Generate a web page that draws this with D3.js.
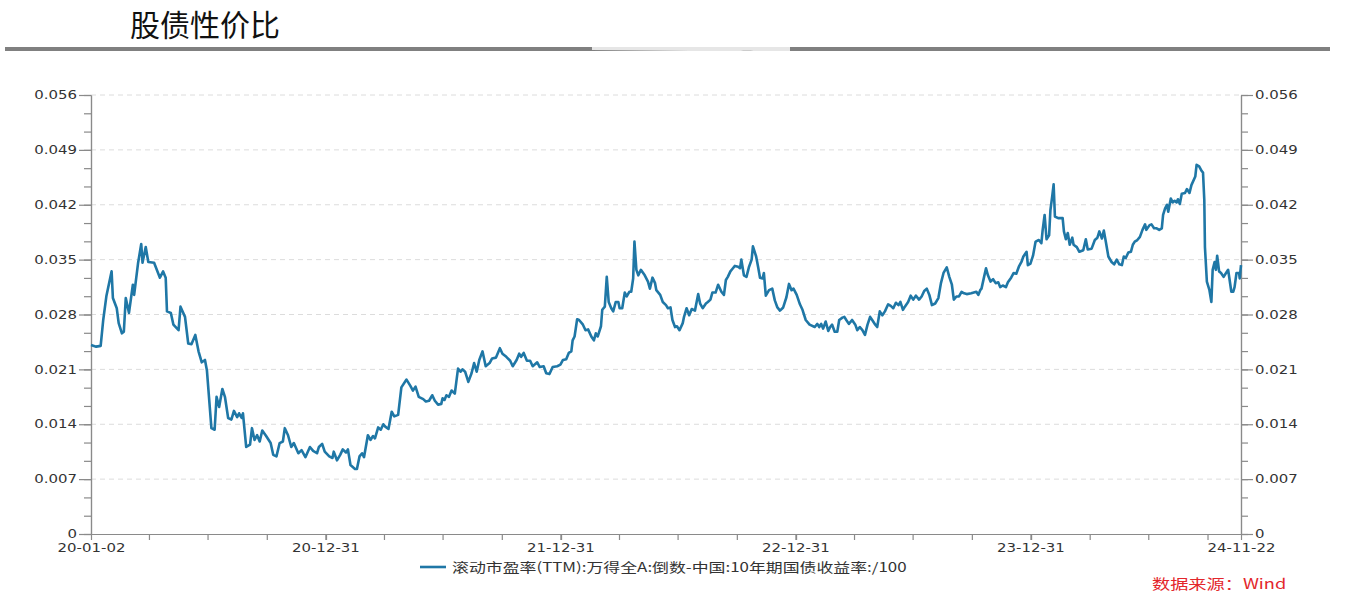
<!DOCTYPE html>
<html>
<head>
<meta charset="utf-8">
<script src="https://cdn.jsdelivr.net/npm/d3@7"></script>
<style>
	body { margin: 0; background: #fff; }
	svg { display: block; }
</style>
</head>
<body>
<svg id="chart" width="1345" height="603"></svg>
<script>
var title = "股债性价比";
var seriesName = "滚动市盈率(TTM):万得全A:倒数-中国:10年期国债收益率:/100";
var sourceText = "数据来源：Wind";

var xLabelDates = ["2020-01-02", "2020-12-31", "2021-12-31", "2022-12-31", "2023-12-31", "2024-11-22"];
var yLabelValues = [0, 0.007, 0.014, 0.021, 0.028, 0.035, 0.042, 0.049, 0.056];

var s2020 = [
	["2020-01-02",0.0241],["2020-01-10",0.0239],["2020-01-17",0.0240],["2020-01-21",0.0273],["2020-01-26",0.0304],
	["2020-02-03",0.0335],["2020-02-05",0.0301],["2020-02-11",0.0288],["2020-02-14",0.0269],["2020-02-19",0.0256],
	["2020-02-22",0.0258],["2020-02-25",0.0301],["2020-03-01",0.0282],["2020-03-07",0.0318],["2020-03-09",0.0305],
	["2020-03-15",0.0345],["2020-03-20",0.0370],["2020-03-22",0.0346],["2020-03-27",0.0366],["2020-03-31",0.0347],
	["2020-04-09",0.0346],["2020-04-18",0.0327],["2020-04-23",0.0335],["2020-04-27",0.0327],["2020-04-29",0.0284],
	["2020-05-05",0.0282],["2020-05-09",0.0267],["2020-05-17",0.0260],["2020-05-20",0.0290],["2020-05-27",0.0277],
	["2020-06-01",0.0243],["2020-06-06",0.0242],["2020-06-12",0.0254],["2020-06-17",0.0233],["2020-06-22",0.0219],
	["2020-06-27",0.0222],["2020-06-30",0.0209],["2020-07-07",0.0135],["2020-07-12",0.0133],["2020-07-15",0.0175],
	["2020-07-19",0.0162],["2020-07-24",0.0185],["2020-07-28",0.0175],["2020-08-02",0.0148],["2020-08-07",0.0146],
	["2020-08-11",0.0157],["2020-08-16",0.0149],["2020-08-19",0.0154],["2020-08-23",0.0148],["2020-08-25",0.0154],
	["2020-08-30",0.0111],["2020-09-05",0.0114],["2020-09-08",0.0135],["2020-09-12",0.0120],["2020-09-16",0.0126],
	["2020-09-20",0.0118],["2020-09-24",0.0132],["2020-09-30",0.0125],["2020-10-07",0.0116],["2020-10-11",0.0101],
	["2020-10-16",0.0099],["2020-10-21",0.0116],["2020-10-26",0.0118],["2020-10-29",0.0135],["2020-11-03",0.0126],
	["2020-11-08",0.0111],["2020-11-12",0.0116],["2020-11-19",0.0103],["2020-11-24",0.0107],["2020-11-30",0.0098],
	["2020-12-07",0.0111],["2020-12-12",0.0106],["2020-12-18",0.0103],["2020-12-21",0.0111],["2020-12-26",0.0115],
	["2020-12-30",0.0105]
];

var s2021 = [
	["2021-01-06",0.0099],["2021-01-11",0.0097],["2021-01-13",0.0105],["2021-01-18",0.0094],["2021-01-23",0.0101],
	["2021-01-27",0.0108],["2021-02-01",0.0104],["2021-02-04",0.0108],["2021-02-08",0.0088],["2021-02-15",0.0083],
	["2021-02-18",0.0083],["2021-02-22",0.0099],["2021-02-26",0.0103],["2021-03-01",0.0098],["2021-03-07",0.0126],
	["2021-03-11",0.0120],["2021-03-15",0.0125],["2021-03-18",0.0122],["2021-03-23",0.0136],["2021-03-27",0.0133],
	["2021-03-31",0.0140],["2021-04-03",0.0137],["2021-04-08",0.0134],["2021-04-13",0.0156],["2021-04-17",0.0150],
	["2021-04-23",0.0152],["2021-04-28",0.0187],["2021-05-06",0.0197],["2021-05-12",0.0189],["2021-05-16",0.0183],
	["2021-05-20",0.0188],["2021-05-25",0.0175],["2021-06-01",0.0172],["2021-06-05",0.0169],["2021-06-10",0.0170],
	["2021-06-15",0.0177],["2021-06-19",0.0170],["2021-06-24",0.0165],["2021-06-29",0.0166],["2021-07-01",0.0173],
	["2021-07-04",0.0171],["2021-07-07",0.0177],["2021-07-11",0.0175],["2021-07-15",0.0183],["2021-07-20",0.0179],
	["2021-07-25",0.0211],["2021-07-29",0.0207],["2021-08-01",0.0210],["2021-08-05",0.0207],["2021-08-10",0.0194],
	["2021-08-15",0.0205],["2021-08-19",0.0218],["2021-08-23",0.0207],["2021-08-27",0.0222],["2021-09-01",0.0233],
	["2021-09-06",0.0214],["2021-09-12",0.0218],["2021-09-16",0.0224],["2021-09-22",0.0225],["2021-09-28",0.0237],
	["2021-10-02",0.0230],["2021-10-08",0.0226],["2021-10-14",0.0221],["2021-10-18",0.0214],["2021-10-24",0.0222],
	["2021-10-28",0.0230],["2021-10-31",0.0226],["2021-11-04",0.0231],["2021-11-09",0.0221],["2021-11-14",0.0221],
	["2021-11-18",0.0214],["2021-11-25",0.0219],["2021-11-29",0.0213],["2021-12-05",0.0214],["2021-12-09",0.0205],
	["2021-12-14",0.0204],["2021-12-19",0.0213],["2021-12-26",0.0214],["2021-12-31",0.0216]
];

var s2022 = [
	["2022-01-04",0.0222],["2022-01-09",0.0223],["2022-01-13",0.0231],["2022-01-17",0.0233],["2022-01-19",0.0247],
	["2022-01-22",0.0252],["2022-01-26",0.0274],["2022-01-29",0.0273],["2022-02-04",0.0267],["2022-02-08",0.0260],
	["2022-02-12",0.0261],["2022-02-17",0.0252],["2022-02-21",0.0247],["2022-02-24",0.0256],["2022-02-27",0.0252],
	["2022-03-04",0.0265],["2022-03-06",0.0286],["2022-03-10",0.0290],["2022-03-13",0.0328],["2022-03-16",0.0296],
	["2022-03-20",0.0288],["2022-03-23",0.0284],["2022-03-27",0.0296],["2022-03-31",0.0296],["2022-04-02",0.0288],
	["2022-04-06",0.0288],["2022-04-10",0.0308],["2022-04-13",0.0303],["2022-04-17",0.0309],["2022-04-20",0.0309],
	["2022-04-23",0.0326],["2022-04-25",0.0373],["2022-04-28",0.0337],["2022-05-01",0.0330],["2022-05-05",0.0337],
	["2022-05-11",0.0330],["2022-05-16",0.0322],["2022-05-19",0.0313],["2022-05-23",0.0327],["2022-05-27",0.0320],
	["2022-05-29",0.0311],["2022-06-04",0.0305],["2022-06-08",0.0296],["2022-06-13",0.0292],["2022-06-16",0.0288],
	["2022-06-20",0.0289],["2022-06-23",0.0273],["2022-06-27",0.0264],["2022-06-30",0.0265],["2022-07-04",0.0260],
	["2022-07-09",0.0269],["2022-07-11",0.0277],["2022-07-15",0.0288],["2022-07-19",0.0279],["2022-07-23",0.0287],
	["2022-07-28",0.0285],["2022-08-02",0.0306],["2022-08-05",0.0294],["2022-08-09",0.0288],["2022-08-14",0.0294],
	["2022-08-17",0.0296],["2022-08-21",0.0299],["2022-08-24",0.0308],["2022-08-29",0.0308],["2022-09-02",0.0318],
	["2022-09-07",0.0309],["2022-09-11",0.0305],["2022-09-14",0.0324],["2022-09-17",0.0328],["2022-09-21",0.0335],
	["2022-09-24",0.0338],["2022-09-28",0.0342],["2022-10-03",0.0341],["2022-10-06",0.0339],["2022-10-08",0.0350],
	["2022-10-12",0.0330],["2022-10-16",0.0328],["2022-10-20",0.0341],["2022-10-24",0.0350],["2022-10-26",0.0367],
	["2022-10-31",0.0354],["2022-11-03",0.0341],["2022-11-06",0.0327],["2022-11-10",0.0326],["2022-11-12",0.0333],
	["2022-11-15",0.0304],["2022-11-20",0.0311],["2022-11-25",0.0313],["2022-11-29",0.0298],["2022-12-03",0.0289],
	["2022-12-07",0.0285],["2022-12-12",0.0289],["2022-12-17",0.0302],["2022-12-21",0.0319],["2022-12-25",0.0311],
	["2022-12-28",0.0313]
];

var s2023 = [
	["2023-01-02",0.0305],["2023-01-07",0.0293],["2023-01-11",0.0286],["2023-01-16",0.0273],["2023-01-22",0.0267],
	["2023-01-30",0.0264],["2023-02-03",0.0268],["2023-02-06",0.0264],["2023-02-09",0.0268],["2023-02-12",0.0262],
	["2023-02-16",0.0271],["2023-02-20",0.0259],["2023-02-23",0.0264],["2023-02-26",0.0267],["2023-03-02",0.0258],
	["2023-03-06",0.0258],["2023-03-09",0.0273],["2023-03-14",0.0276],["2023-03-17",0.0277],["2023-03-20",0.0273],
	["2023-03-24",0.0268],["2023-03-29",0.0273],["2023-04-03",0.0267],["2023-04-06",0.0260],["2023-04-10",0.0264],
	["2023-04-14",0.0260],["2023-04-18",0.0254],["2023-04-22",0.0267],["2023-04-26",0.0277],["2023-04-30",0.0272],
	["2023-05-04",0.0267],["2023-05-07",0.0264],["2023-05-11",0.0284],["2023-05-15",0.0279],["2023-05-19",0.0284],
	["2023-05-24",0.0293],["2023-05-28",0.0291],["2023-06-01",0.0288],["2023-06-05",0.0295],["2023-06-09",0.0292],
	["2023-06-12",0.0296],["2023-06-16",0.0286],["2023-06-19",0.0290],["2023-06-24",0.0296],["2023-06-28",0.0304],
	["2023-07-02",0.0299],["2023-07-06",0.0304],["2023-07-11",0.0299],["2023-07-15",0.0303],["2023-07-19",0.0310],
	["2023-07-23",0.0313],["2023-07-27",0.0305],["2023-07-31",0.0292],["2023-08-05",0.0294],["2023-08-10",0.0301],
	["2023-08-14",0.0320],["2023-08-18",0.0333],["2023-08-23",0.0340],["2023-08-27",0.0328],["2023-08-31",0.0318],
	["2023-09-03",0.0299],["2023-09-07",0.0303],["2023-09-11",0.0303],["2023-09-15",0.0309],["2023-09-19",0.0307],
	["2023-09-23",0.0306],["2023-09-30",0.0307],["2023-10-08",0.0309],["2023-10-11",0.0305],["2023-10-14",0.0311],
	["2023-10-16",0.0313],["2023-10-20",0.0328],["2023-10-23",0.0339],["2023-10-26",0.0330],["2023-10-30",0.0322],
	["2023-11-03",0.0325],["2023-11-07",0.0320],["2023-11-11",0.0321],["2023-11-14",0.0315],["2023-11-18",0.0317],
	["2023-11-23",0.0315],["2023-11-26",0.0321],["2023-12-01",0.0327],["2023-12-05",0.0333],["2023-12-09",0.0332],
	["2023-12-13",0.0341],["2023-12-17",0.0347],["2023-12-20",0.0354],["2023-12-25",0.0360],["2023-12-27",0.0343],
	["2023-12-31",0.0345]
];

var s2024 = [
	["2024-01-04",0.0355],["2024-01-08",0.0373],["2024-01-13",0.0375],["2024-01-17",0.0371],["2024-01-19",0.0388],
	["2024-01-22",0.0407],["2024-01-25",0.0376],["2024-01-29",0.0381],["2024-01-31",0.0413],["2024-02-03",0.0432],
	["2024-02-05",0.0446],["2024-02-07",0.0405],["2024-02-12",0.0403],["2024-02-19",0.0403],["2024-02-21",0.0386],
	["2024-02-24",0.0376],["2024-02-27",0.0384],["2024-03-01",0.0369],["2024-03-05",0.0378],["2024-03-07",0.0369],
	["2024-03-12",0.0366],["2024-03-16",0.0360],["2024-03-22",0.0362],["2024-03-26",0.0376],["2024-03-29",0.0363],
	["2024-04-04",0.0364],["2024-04-09",0.0375],["2024-04-13",0.0378],["2024-04-16",0.0386],["2024-04-20",0.0377],
	["2024-04-23",0.0387],["2024-04-26",0.0373],["2024-04-30",0.0354],["2024-05-05",0.0347],["2024-05-09",0.0344],
	["2024-05-13",0.0350],["2024-05-17",0.0344],["2024-05-21",0.0343],["2024-05-24",0.0354],["2024-05-27",0.0352],
	["2024-05-31",0.0359],["2024-06-04",0.0360],["2024-06-07",0.0369],["2024-06-10",0.0373],["2024-06-14",0.0375],
	["2024-06-18",0.0379],["2024-06-22",0.0388],["2024-06-26",0.0395],["2024-06-28",0.0388],["2024-07-03",0.0394],
	["2024-07-06",0.0395],["2024-07-10",0.0390],["2024-07-14",0.0390],["2024-07-18",0.0388],["2024-07-22",0.0390],
	["2024-07-24",0.0407],["2024-07-27",0.0415],["2024-07-30",0.0420],["2024-08-01",0.0411],["2024-08-05",0.0428],
	["2024-08-08",0.0423],["2024-08-11",0.0425],["2024-08-14",0.0423],["2024-08-16",0.0427],["2024-08-19",0.0421],
	["2024-08-22",0.0434],["2024-08-27",0.0435],["2024-08-30",0.0440],["2024-09-03",0.0435],["2024-09-06",0.0445],
	["2024-09-12",0.0456],["2024-09-14",0.0471],["2024-09-18",0.0469],["2024-09-22",0.0463],["2024-09-24",0.0461],
	["2024-09-26",0.0426],["2024-09-27",0.0366],["2024-09-30",0.0322],["2024-10-04",0.0311],["2024-10-07",0.0296],
	["2024-10-09",0.0337],["2024-10-12",0.0347],["2024-10-14",0.0337],["2024-10-16",0.0355],["2024-10-19",0.0335],
	["2024-10-22",0.0333],["2024-10-26",0.0328],["2024-10-29",0.0332],["2024-11-02",0.0337],["2024-11-04",0.0326],
	["2024-11-07",0.0309],["2024-11-10",0.0309],["2024-11-12",0.0315],["2024-11-15",0.0333],["2024-11-19",0.0333],
	["2024-11-20",0.0326],["2024-11-22",0.0343]
];

(function() {
	var parse = d3.timeParse("%Y-%m-%d");
	var fmt = d3.timeFormat("%y-%m-%d");
	var lineColor = "#1f77a6",
		axisColor = "#8a8a8a",
		textColor = "#333",
		sx = 1.3;

	var series = [].concat(s2020, s2021, s2022, s2023, s2024).map(function(d) {
		return {date: parse(d[0]), value: d[1]};
	});
	var xDates = xLabelDates.map(parse);

	var left = 91, right = 1241, top = 95, bottom = 534;

	var x = d3.scaleTime()
		.domain([xDates[0], xDates[xDates.length - 1]])
		.range([left, right]);
	var y = d3.scaleLinear()
		.domain([0, 0.056])
		.range([bottom, top]);

	var svg = d3.select("#chart");

	// header
	svg.append("text")
		.attr("x", 130)
		.attr("y", 36)
		.attr("font-family", "Noto Sans CJK SC")
		.attr("font-size", 30)
		.attr("fill", "#111")
		.text(title);
	svg.append("rect")
		.attr("x", 5)
		.attr("y", 47)
		.attr("width", 1325)
		.attr("height", 4)
		.attr("fill", "#808080");
	// the faded patch on the rule in the original
	svg.append("path")
		.attr("d", "M592,45 L790,45 L790,52 L760,52 C745,49 735,53 720,51 L690,51 L592,50 Z")
		.attr("fill", "#fff")
		.attr("opacity", 0.8);

	// grid
	svg.append("g")
		.attr("class", "grid")
		.selectAll("line")
		.data(yLabelValues.filter(function(v) { return v > 0; }))
		.enter().append("line")
			.attr("x1", left)
			.attr("x2", right)
			.attr("y1", function(d) { return y(d); })
			.attr("y2", function(d) { return y(d); })
			.attr("stroke", "#dcdcdc")
			.attr("stroke-dasharray", "5,4")
			.attr("stroke-width", 1);

	var minorY = d3.range(0, 0.0561, 0.007 / 3);
	var minorX = d3.timeMonth.every(3).range(xDates[0], xDates[xDates.length - 1]);

	var styleAxis = function(g) {
		g.select(".domain").attr("stroke", axisColor).attr("stroke-width", 1.2);
		g.selectAll(".tick line").attr("stroke", axisColor).attr("stroke-width", 1.2);
		g.selectAll(".tick text")
			.attr("fill", textColor)
			.attr("font-family", "DejaVu Sans")
			.attr("font-size", 11.5);
	};
	var yFormat = function(d) { return d === 0 ? "0" : d3.format(".3f")(d); };

	// left axis
	svg.append("g")
		.attr("transform", "translate(" + left + ",0)")
		.call(d3.axisLeft(y).tickValues(minorY).tickSize(7).tickSizeOuter(0).tickFormat(""))
		.call(styleAxis);
	svg.append("g")
		.attr("transform", "translate(" + left + ",0)")
		.call(d3.axisLeft(y).tickValues(yLabelValues).tickSize(12).tickSizeOuter(0).tickFormat(yFormat))
		.call(styleAxis)
		.call(function(g) {
			g.selectAll(".tick text")
				.attr("x", -14 / sx)
				.attr("transform", "scale(" + sx + ",1)");
		});

	// right axis
	svg.append("g")
		.attr("transform", "translate(" + right + ",0)")
		.call(d3.axisRight(y).tickValues(minorY).tickSize(7).tickSizeOuter(0).tickFormat(""))
		.call(styleAxis);
	svg.append("g")
		.attr("transform", "translate(" + right + ",0)")
		.call(d3.axisRight(y).tickValues(yLabelValues).tickSize(12).tickSizeOuter(0).tickFormat(yFormat))
		.call(styleAxis)
		.call(function(g) {
			g.selectAll(".tick text")
				.attr("x", 14 / sx)
				.attr("transform", "scale(" + sx + ",1)");
		});

	// bottom axis
	svg.append("g")
		.attr("transform", "translate(0," + bottom + ")")
		.call(d3.axisBottom(x).tickValues(minorX).tickSize(6).tickSizeOuter(0).tickFormat(""))
		.call(styleAxis);
	svg.append("g")
		.attr("transform", "translate(0," + bottom + ")")
		.call(d3.axisBottom(x).tickValues(xDates).tickSize(6).tickSizeOuter(0).tickPadding(4).tickFormat(fmt))
		.call(styleAxis)
		.call(function(g) {
			g.selectAll(".tick text")
				.attr("transform", "scale(" + sx + ",1)");
		});

	// series
	var line = d3.line()
		.x(function(d) { return x(d.date); })
		.y(function(d) { return y(d.value); });

	svg.append("path")
		.datum(series)
		.attr("fill", "none")
		.attr("stroke", lineColor)
		.attr("stroke-width", 2.6)
		.attr("stroke-linejoin", "round")
		.attr("d", line);

	// legend
	var legend = svg.append("g").attr("transform", "translate(420,567)");
	legend.append("line")
		.attr("x1", 0)
		.attr("x2", 26)
		.attr("stroke", lineColor)
		.attr("stroke-width", 2.6);
	legend.append("text")
		.attr("x", 32 / sx)
		.attr("y", 5)
		.attr("transform", "scale(" + sx + ",1)")
		.attr("font-family", "Noto Sans CJK SC")
		.attr("font-size", 13)
		.attr("fill", textColor)
		.text(seriesName);

	// source
	svg.append("text")
		.attr("x", 1152 / sx)
		.attr("y", 589)
		.attr("transform", "scale(" + sx + ",1)")
		.attr("font-family", "Noto Sans CJK SC")
		.attr("font-size", 14)
		.attr("fill", "#e3262b")
		.text(sourceText);
})();
</script>
</body>
</html>
